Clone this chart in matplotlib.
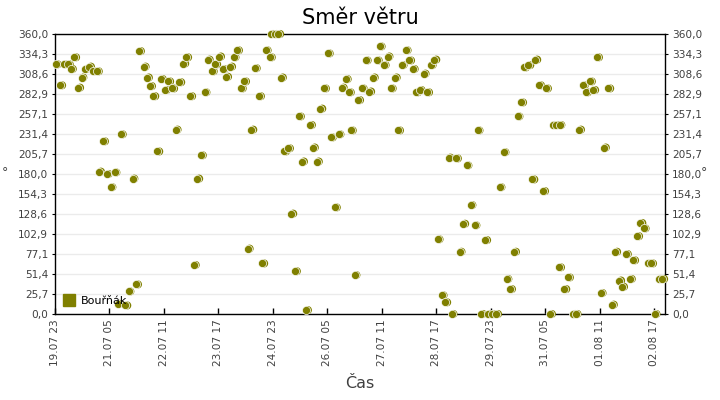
import matplotlib
matplotlib.use("Agg")
import matplotlib.pyplot as plt
import matplotlib.dates as mdates
import matplotlib.transforms as mtransforms
from matplotlib.lines import Line2D
import numpy as np
import pandas as pd

# ---- data ----
title = "Směr větru"
series_name = "Bouřňák"
x_label = "Čas"
y_label = "°"
start_time = "2023-07-19 23:00"
end_time = "2023-08-02 23:00"

# hours after start_time
hours = [0.5, 2.9, 4.7, 7.1, 8.8, 10.6, 12.8, 14.6, 16.5, 18.8, 20.7, 23.1,
         24.3, 26.5, 28.6, 30.6, 32.8, 34.6, 36.3, 38.8, 40.5, 42.7, 44.7, 46.3,
         48.9, 50.7, 52.4, 54.2, 56.4, 58.4, 60.6, 62.4, 64.6, 66.5, 68.5, 70.7,
         72.3, 74.5, 76.5, 78.4, 80.4, 82.4, 84.2, 86.4, 88.3, 90.4, 92.3, 94.3,
         96.5, 98.4, 100.3, 102.4, 104.2, 106.2, 108.2, 110.1, 112.4, 114.2, 116.1, 118.4,
         119.1, 121.1, 123.0, 124.5, 126.2, 128.4, 130.2, 132.2, 134.4, 136.1, 138.3, 140.5,
         142.1, 144.3, 146.2, 148.2, 150.3, 152.0, 154.2, 156.2, 158.0, 160.2, 161.9, 163.0,
         165.0, 167.0, 169.0, 171.2, 173.1, 175.1, 177.3, 178.9, 181.1, 183.2, 185.0, 187.2,
         189.0, 191.0, 193.2, 195.1, 197.1, 198.9, 200.9, 203.1, 205.0, 207.0, 209.0, 210.8,
         213.0, 215.0, 216.8, 218.5, 220.9, 222.9, 224.9, 226.7, 228.9, 231.1, 232.8, 234.8,
         237.0, 238.6, 240.8, 243.0, 244.9, 247.1, 248.7, 250.7, 252.9, 254.8, 256.8, 258.4,
         260.8, 263.0, 264.6, 266.7, 268.9, 270.5, 272.7, 274.1, 276.0, 277.9, 277.7, 280.6,
         282.6, 285.5, 286.8, 288.7, 290.8, 292.5, 294.7, 296.5, 298.6, 300.6, 302.4, 304.8,
         306.8, 308.6, 310.8, 312.4, 314.5, 316.7, 318.5, 320.7, 322.5, 324.3, 326.7, 328.4,
         330.3, 332.7, 334.5]

direction = [321, 294, 321, 321, 315, 330, 291, 304, 315, 318, 312, 312,
             183, 222, 180, 163, 182, 13, 231, 11, 29, 174, 38, 338,
             318, 304, 293, 280, 209, 302, 288, 299, 290, 237, 298, 322,
             330, 280, 63, 174, 204, 285, 327, 312, 321, 331, 315, 305,
             318, 330, 339, 290, 299, 84, 237, 316, 280, 65, 339, 330,
             360, 360, 360, 304, 209, 213, 129, 55, 254, 196, 5, 243,
             214, 196, 264, 290, 335, 227, 137, 231, 291, 302, 285, 236,
             50, 275, 290, 326, 286, 304, 326, 344, 320, 331, 290, 304,
             236, 320, 339, 326, 315, 285, 288, 309, 285, 320, 327, 96,
             24, 15, 201, 0, 200, 80, 116, 191, 140, 114, 236, 0,
             95, 0, 0, 0, 163, 208, 45, 32, 80, 254, 272, 317,
             320, 173, 327, 294, 158, 290, 0, 243, 243, 243, 60, 32,
             47, 0, 0, 237, 294, 285, 299, 288, 330, 27, 214, 290,
             12, 80, 43, 35, 77, 45, 69, 100, 117, 110, 65, 65,
             0, 45, 45]

tick_step_hours = 30
n_y_ticks = 15

# ---- plot ----
olive = "#808000"
text_gray = "#404040"

t0 = pd.Timestamp(start_time)
t1 = pd.Timestamp(end_time)
times = [t0 + pd.Timedelta(hours=h) for h in hours]

fig = plt.figure(figsize=(7.2, 4.0), dpi=100)
ax = fig.add_axes([55 / 720, 1 - 314 / 400, 610 / 720, 280 / 400])

back = mtransforms.offset_copy(ax.transData, fig=fig, x=1.8, y=0, units="dots")
ax.scatter(times, direction, s=34, c=olive, edgecolors="none",
           transform=back, clip_on=False, zorder=3)
ax.scatter(times, direction, s=34, c=olive, edgecolors="white",
           linewidths=0.5, clip_on=False, zorder=3)

ax.set_xlim(t0, t1)
ax.set_ylim(0, 360)

yt = np.linspace(0, 360, n_y_ticks)
ylabels = [f"{v:.1f}".replace(".", ",") for v in yt]
ax.set_yticks(yt)
ax.set_yticklabels(ylabels)
ax.grid(axis="y", color="#ebebeb", linewidth=1.0, zorder=0)
ax.set_axisbelow(True)

xt = pd.date_range(t0, t1, freq=f"{tick_step_hours}h")
ax.set_xticks(xt)
ax.xaxis.set_major_formatter(mdates.DateFormatter("%d.%m %H"))
for lab in ax.get_xticklabels():
    lab.set_rotation(90)

ax.tick_params(axis="x", direction="in", length=4, width=1, labelsize=7.6,
               labelcolor=text_gray, pad=4)
ax.tick_params(axis="y", which="both", left=True, right=True,
               labelleft=True, labelright=True, direction="out", length=2,
               labelsize=7.6, labelcolor=text_gray, pad=3)

for sp in ax.spines.values():
    sp.set_color("black")
    sp.set_linewidth(1.0)

fig.text(360 / 720, 1 - 18 / 400, title, ha="center", va="center",
         fontsize=15, color="black")
fig.text(360 / 720, 1 - 383 / 400, x_label, ha="center", va="center",
         fontsize=11.5, color=text_gray)
fig.text(5 / 720, 1 - 173 / 400, y_label, ha="center", va="center",
         fontsize=9, color=text_gray)
fig.text(704 / 720, 1 - 173 / 400, y_label, ha="center", va="center",
         fontsize=9, color=text_gray)

handle = Line2D([], [], marker="s", linestyle="", color=olive, markersize=8)
ax.legend([handle], [series_name], loc="lower left", frameon=False,
          bbox_to_anchor=(0.0, 0.0), borderaxespad=0.3, handletextpad=0.4,
          handlelength=1.2, fontsize=8)

fig.savefig("out.png", dpi=100)
